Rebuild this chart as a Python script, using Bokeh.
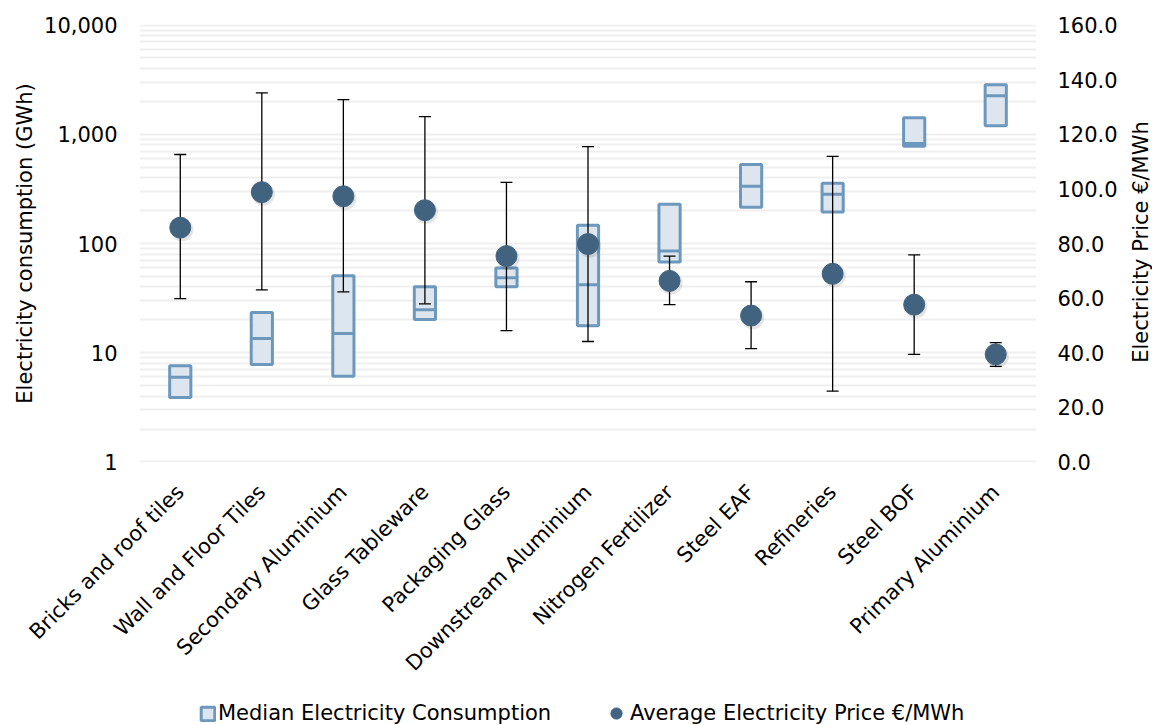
import math
from bokeh.plotting import figure
from bokeh.layouts import column, row
from bokeh.models import (ColumnDataSource, FactorRange, Range1d, LinearAxis, LinearScale,
                          FixedTicker, NumeralTickFormatter, Legend, LegendItem, Label)
from bokeh.transform import dodge
from bokeh.embed import file_html
from bokeh.resources import INLINE

# ---------------- data ----------------
categories = ["Bricks and roof tiles", "Wall and Floor Tiles", "Secondary Aluminium",
              "Glass Tableware", "Packaging Glass", "Downstream Aluminium",
              "Nitrogen Fertilizer", "Steel EAF", "Refineries", "Steel BOF",
              "Primary Aluminium"]
# electricity consumption (GWh): box low / median / high
cons_low = [3.9, 7.8, 6.1, 20.1, 40.1, 17.7, 67.8, 215, 194, 775, 1200]
cons_median = [5.95, 13.5, 15.0, 24.8, 48.5, 42.0, 85.5, 334, 282, 825, 2255]
cons_high = [7.6, 23.3, 50.6, 40.1, 59.8, 147, 229, 530, 356, 1420, 2840]
# electricity price (EUR/MWh): average, min, max
price_avg = [85.8, 98.8, 97.3, 92.2, 75.4, 79.8, 66.3, 53.6, 68.9, 57.6, 39.4]
price_min = [59.8, 63.0, 62.3, 57.9, 48.1, 44.1, 57.6, 41.5, 25.9, 39.4, 35.0]
price_max = [112.6, 135.2, 132.7, 126.5, 102.4, 115.5, 75.4, 66.0, 111.9, 75.8, 43.7]

cons_ticks = [1, 10, 100, 1000, 10000]
cons_minor = [m * 10 ** e for e in range(4) for m in range(2, 10)]
price_ticks = [0, 20, 40, 60, 80, 100, 120, 140, 160]

left_title = "Electricity consumption (GWh)"
right_title = "Electricity Price €/MWh"
legend_box_label = "Median Electricity Consumption"
legend_dot_label = "Average Electricity Price €/MWh"

# ---------------- style ----------------
FONT = "DejaVu Sans"
FS = "21px"
BOX_FILL = "#dde5ee"
BOX_LINE = "#6d98bd"
DOT = "#416380"
GRID = "#efefef"
PAD = 1.012  # tiny range padding so edge gridlines are fully visible

MAIN_W, MAIN_H = 1122, 696
LEG_H = 725 - MAIN_H
SIDE_W = 1152 - MAIN_W
FRAME_LEFT = 139

source = ColumnDataSource(dict(cat=categories, low=cons_low, med=cons_median, high=cons_high,
                               pavg=price_avg, pmin=price_min, pmax=price_max))

x_range = FactorRange(factors=categories, range_padding=0, factor_padding=0)
p = figure(width=MAIN_W, height=MAIN_H, title=None, x_range=x_range,
           y_range=Range1d(cons_ticks[0] / PAD, cons_ticks[-1] * PAD), y_axis_type="log",
           output_backend="svg", toolbar_location=None,
           min_border_left=FRAME_LEFT, min_border_right=MAIN_W - 1036, min_border_top=24,
           min_border_bottom=MAIN_H - 462)
p.outline_line_color = None
p.background_fill_color = "white"
p.border_fill_color = "white"

pspan = price_ticks[-1] - price_ticks[0]
ppad = pspan * math.log10(PAD) / math.log10(cons_ticks[-1] / cons_ticks[0])
p.extra_y_ranges = {"price": Range1d(price_ticks[0] - ppad, price_ticks[-1] + ppad)}
p.extra_y_scales = {"price": LinearScale()}
right_axis = LinearAxis(y_range_name="price", ticker=FixedTicker(ticks=price_ticks),
                        formatter=NumeralTickFormatter(format="0.0"))
p.add_layout(right_axis, "right")

ticker = FixedTicker(ticks=cons_ticks, minor_ticks=cons_minor)
p.yaxis[0].ticker = ticker
p.yaxis[0].formatter = NumeralTickFormatter(format="0,0")
p.ygrid.ticker = ticker
p.ygrid.grid_line_color = GRID
p.ygrid.grid_line_width = 2
p.ygrid.minor_grid_line_color = GRID
p.ygrid.minor_grid_line_width = 2
p.xgrid.grid_line_color = None

for ax in p.axis:
    ax.axis_line_color = None
    ax.major_tick_line_color = None
    ax.minor_tick_line_color = None
    ax.major_tick_out = 0
    ax.major_tick_in = 0
    ax.minor_tick_out = 0
    ax.minor_tick_in = 0
    ax.major_label_text_font = FONT
    ax.major_label_text_font_size = FS
    ax.major_label_text_color = "black"
    ax.axis_label_text_font = FONT
    ax.axis_label_text_font_size = FS
    ax.axis_label_text_font_style = "normal"
    ax.axis_label_text_color = "black"

left_axis = p.yaxis[0]
left_axis.major_label_standoff = 22
left_axis.axis_label = left_title
left_axis.axis_label_standoff = 4
right_axis.major_label_standoff = 21

p.xaxis.major_label_orientation = math.pi / 4
p.xaxis.major_label_standoff = 26

# ---------------- glyphs ----------------
box_style = dict(width=0.26, fill_color=BOX_FILL, line_color=BOX_LINE, line_width=3)
dot_style = dict(radius=10.5, radius_units="screen", fill_color=DOT, line_color=DOT)

p.vbar(x="cat", bottom="low", top="high", source=source, **box_style)
p.scatter(x="cat", y="med", marker="dash", size=21, source=source,
          line_color=BOX_LINE, line_width=3)

p.segment(x0="cat", x1="cat", y0="pmin", y1="pmax", source=source, y_range_name="price",
          line_color="black", line_width=1.3)
p.scatter(x="cat", y="pmax", marker="dash", size=12, source=source, y_range_name="price",
          line_color="black", line_width=1.3)
p.scatter(x="cat", y="pmin", marker="dash", size=12, source=source, y_range_name="price",
          line_color="black", line_width=1.3)

# soft shadow under the price dots
p.circle(x=dodge("cat", 0.02, range=p.x_range), y=dodge("pavg", -0.8), radius=11.5,
         radius_units="screen", source=source, y_range_name="price",
         fill_color="black", fill_alpha=0.10, line_color=None)
p.circle(x="cat", y="pavg", source=source, y_range_name="price", **dot_style)

# ---------------- legend strip (below the chart) ----------------
q = figure(width=MAIN_W, height=LEG_H, title=None, x_range=x_range, y_range=Range1d(0, 1),
           x_axis_location=None, y_axis_location=None, output_backend="svg",
           toolbar_location=None, min_border=0)
q.outline_line_color = None
q.grid.visible = False
# hidden proxies (same data) whose styles feed the legend icons
leg_box = q.vbar(x="cat", bottom="low", top="high", source=source, visible=False, **box_style)
leg_dot = q.circle(x="cat", y="pavg", source=source, visible=False, **dot_style)
common = dict(orientation="horizontal", padding=0, margin=0, border_line_color=None,
              background_fill_alpha=0, label_text_font=FONT, label_text_font_size=FS,
              label_text_color="black", label_height=24, inactive_fill_alpha=0)
q.add_layout(Legend(items=[LegendItem(label=legend_box_label, renderers=[leg_box])],
                    location=(199 - FRAME_LEFT, 0), glyph_width=17, glyph_height=17,
                    label_standoff=2, **common))
q.add_layout(Legend(items=[LegendItem(label=legend_dot_label, renderers=[leg_dot])],
                    location=(602 - FRAME_LEFT, -2), glyph_width=28, glyph_height=28,
                    label_standoff=0, **common))

# ---------------- right axis title strip ----------------
r = figure(width=SIDE_W, height=725, title=None, x_range=Range1d(0, 1), y_range=Range1d(0, 1),
           x_axis_location=None, y_axis_location=None, output_backend="svg",
           toolbar_location=None, min_border=0)
r.outline_line_color = None
r.grid.visible = False
r.add_layout(Label(x=18, y=725 - 241.5, x_units="screen", y_units="screen", text=right_title,
                   angle=90, angle_units="deg", text_align="center", text_baseline="middle",
                   text_font=FONT, text_font_size=FS, text_color="black"))

layout = row(column(p, q), r)
open("out.html", "w").write(file_html(layout, INLINE))
